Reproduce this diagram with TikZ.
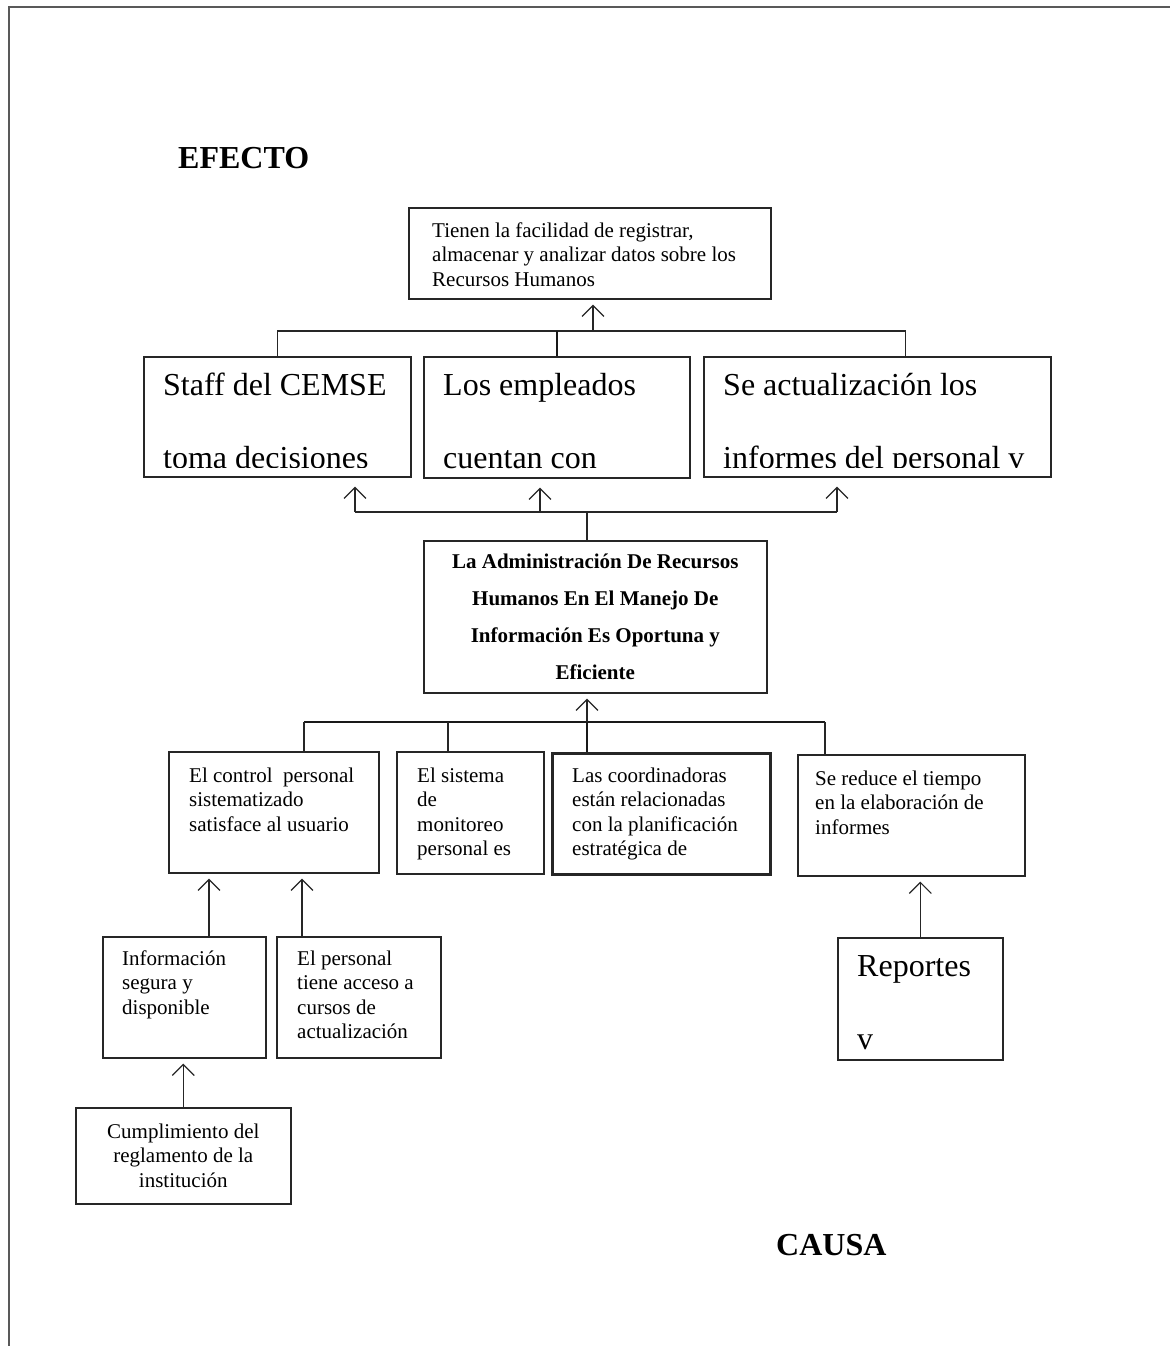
\documentclass[tikz,border=0pt]{standalone}
\usepackage{fontspec}
\setmainfont{Liberation Serif}
\usetikzlibrary{arrows.meta}

\begin{document}
\begin{tikzpicture}[x=1pt, y=-1pt,
  box/.style={draw=black!85, line width=1.6pt, anchor=north west, inner sep=0pt},
  txt/.style={anchor=north west, inner sep=0pt, align=left, font=\fontsize{21}{24.5}\selectfont},
  big/.style={anchor=north west, inner sep=0pt, align=left, font=\fontsize{32}{73}\selectfont},
  ttl/.style={anchor=base west, inner sep=0pt, font=\fontsize{32}{38}\selectfont\bfseries},
  arr/.style={-{Straight Barb[length=11pt, width=22pt]}, line width=1.2pt, black!85, shorten >=5pt},
  link/.style={line width=1.3pt, black!85},
  heavy/.style={line width=2.6pt, black!90}]
\useasboundingbox (0,0) rectangle (1170,1346);
% page edge
\draw[black!65, line width=1.6pt] (9,1346) -- (9,7) -- (1170,7);

\node[ttl] (efecto) at (178,168) {EFECTO};
\node[ttl] (causa) at (776,1255) {CAUSA};

% effects
\node[box, minimum width=362, minimum height=91] (tienen) at (408,207) {};
\node[txt] (tienen-t) at (432,219.85) {\strut Tienen la facilidad de registrar,\\almacenar y analizar datos sobre los\\Recursos Humanos};

\node[box, minimum width=267, minimum height=120] (staff) at (143,356) {};
\node[box, minimum width=266, minimum height=121] (emp) at (423,356) {};
\node[box, minimum width=347, minimum height=120] (act) at (703,356) {};
\begin{scope}
  \clip (staff.north west) rectangle ([yshift=10pt]staff.south east);
  \node[big] (staff-t) at (163,343.9) {\strut Staff del CEMSE\\toma decisiones};
\end{scope}
\begin{scope}
  \clip (emp.north west) rectangle ([yshift=10pt]emp.south east);
  \node[big] (emp-t) at (443,343.9) {\strut Los empleados\\cuentan con};
\end{scope}
\begin{scope}
  \clip (act.north west) rectangle ([yshift=10pt]act.south east);
  \node[big] (act-t) at (723,343.9) {\strut Se actualización los\\informes del personal v};
\end{scope}

\coordinate (up1) at (593,331);
\draw[link] (staff.north) |- (up1) -| ([xshift=28pt]act.north);
\draw[heavy] (emp.north) -- (emp.north |- up1);
\draw[arr] (up1) -- (up1 |- tienen.south);

% central problem
\node[box, minimum width=343, minimum height=152, align=center,
  font=\fontsize{21}{37}\selectfont\bfseries] (main) at (423,540)
  {La Administración De Recursos\\Humanos En El Manejo De\\Información Es Oportuna y\\Eficiente};

\coordinate (dn1) at (355,512);
\coordinate (dn2) at (540,512);
\coordinate (dn3) at (837,512);
\coordinate (mid2) at (587,512);
\draw[link] (dn1) -- (dn3);
\draw[link] (mid2) -- (mid2 |- main.north);
\draw[arr, shorten >=9pt] (dn1) -- (dn1 |- staff.south);
\draw[arr, shorten >=9pt] (dn2) -- (dn2 |- emp.south);
\draw[arr, shorten >=9pt] (dn3) -- (dn3 |- act.south);

% causes
\node[box, minimum width=210, minimum height=121] (ctrl) at (168,751) {};
\node[box, minimum width=147, minimum height=122, line width=2.4pt] (sist) at (396,751) {};
\node[box, minimum width=218, minimum height=121, line width=2.6pt] (coord) at (551,752) {};
\node[box, minimum width=227, minimum height=121] (reduce) at (797,754) {};
\node[txt] (ctrl-t) at (189,764.85) {\strut El control~ personal\\sistematizado\\satisface al usuario};
\node[txt] (sist-t) at (417,764.85) {\strut El sistema\\de\\monitoreo\\personal es};
\node[txt] (coord-t) at (572,764.85) {\strut Las coordinadoras\\están relacionadas\\con la planificación\\estratégica de};
\node[txt] (reduce-t) at (815,767.85) {\strut Se reduce el tiempo\\en la elaboración de\\informes};

\coordinate (k1) at (304,722);
\coordinate (k2) at (448,722);
\coordinate (k3) at (587,722);
\coordinate (k4) at (825,722);
\draw[heavy] (k1) -- (k4);
\draw[link] (k1) -- (k1 |- ctrl.north);
\draw[link] (k2) -- (k2 |- sist.north);
\draw[heavy] (k3) -- (k3 |- coord.north);
\draw[link] (k4) -- (k4 |- reduce.north);
\draw[arr] (k3) -- (k3 |- main.south);

\node[box, minimum width=163, minimum height=121] (info) at (102,936) {};
\node[box, minimum width=164, minimum height=121] (pers) at (276,936) {};
\node[txt] (info-t) at (122,947.85) {\strut Información\\segura y\\disponible};
\node[txt] (pers-t) at (297,947.85) {\strut El personal\\tiene acceso a\\cursos de\\actualización};
\coordinate (a1) at (209,936);
\coordinate (a2) at (302,936);
\draw[arr] (a1) -- (a1 |- ctrl.south);
\draw[arr] (a2) -- (a2 |- ctrl.south);

\node[box, minimum width=215, minimum height=96, align=center,
  font=\fontsize{21}{24.5}\selectfont] (cump) at (75,1107)
  {Cumplimiento del\\reglamento de la\\institución};
\draw[arr] (cump.north) -- (cump.north |- info.south);

\node[box, minimum width=165, minimum height=122] (rep) at (837,937) {};
\begin{scope}
  \clip (rep.north west) rectangle ([yshift=10pt]rep.south east);
  \node[big] (rep-t) at (857,924.9) {\strut Reportes\\v};
\end{scope}
\draw[arr] (rep.north) -- (rep.north |- reduce.south);
\end{tikzpicture}
\end{document}
